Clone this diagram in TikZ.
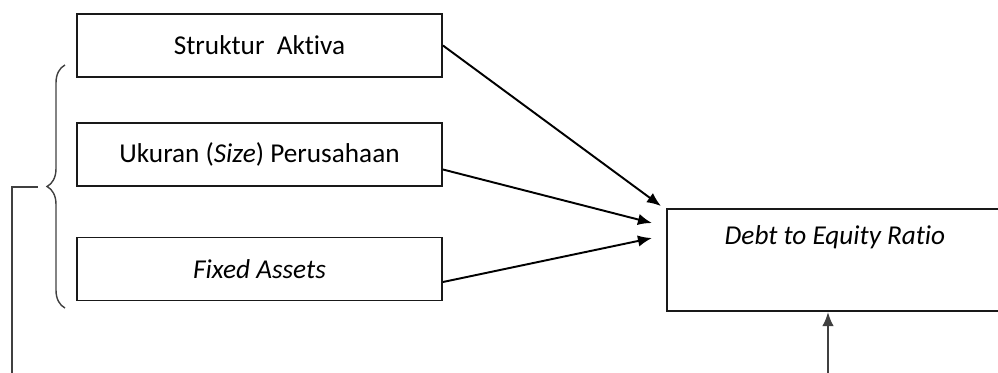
\documentclass[tikz,border=0pt]{standalone}
\usepackage{fontspec}
\setmainfont{Carlito}[Ligatures=NoCommon]
\usetikzlibrary{
  calc,
  positioning,
  arrows.meta,
  decorations.pathreplacing}

\begin{document}
\begin{tikzpicture}[
      block/.style={
        rectangle,
        draw,
        line width=1.1pt,
        black!90,
        text=black,
      },
      factor/.style={
        minimum width=7.3cm,
        minimum height=1.26cm,
        font=\fontsize{15.5}{19}\selectfont,
      },
      result/.style={
        minimum width=7.2cm,
        minimum height=2.04cm,
        anchor=west,
      },
      link/.style={
        -{Latex[length=8pt,width=6.5pt]},
        line width=1.1pt,
      },
      feedback/.style={
        line width=1.1pt,
        black!75,
      },
    ]
    \useasboundingbox (0,0) rectangle (19.96,-7.44);
    \clip (0,0) rectangle (19.96,-7.44);
    \coordinate (struktur) at (5.19,-0.91);
    \coordinate (ukuran) at (5.19,-3.09);
    \coordinate (fixed) at (5.19,-5.38);
    \coordinate (der) at (13.32,-5.2);
    \coordinate (der-label) at (16.7,-4.74);
    \node[block, factor] (struktur-node) at (struktur) {Struktur\ \ Aktiva};
    \node[block, factor] (ukuran-node) at (ukuran) {Ukuran (\textit{Size}) Perusahaan};
    \node[block, factor] (fixed-node) at (fixed) {\textit{Fixed Assets}};
    \node[block, result] (der-node) at (der) {};
    \node[font=\fontsize{15.5}{19}\selectfont\itshape] (der-text) at (der-label) {Debt to Equity Ratio};
    \draw[link] (struktur-node.east) -- ($(der-node.north west) + (-0.1,0.04)$);
    \draw[link] ($(ukuran-node.east) + (0,-0.3)$) -- ($(der-node.north west) + (-0.28,-0.3)$);
    \draw[link] ($(fixed-node.east) + (0,-0.26)$) -- ($(der-node.north west) + (-0.28,-0.6)$);
    \draw[line width=0.8pt, black!75, decorate, decoration={brace, amplitude=0.36cm}] (1.3,-6.16) -- (1.3,-1.3);
    \coordinate (brace-tip) at (0.76,-3.74);
    \coordinate (feedback-left) at (0.24,-7.6);
    \coordinate (feedback-right) at (16.56,-7.6);
    \draw[feedback] (brace-tip) -| (feedback-left);
    \draw[link, feedback] (feedback-right) -- (feedback-right |- der-node.south);
  \end{tikzpicture}
\end{document}
